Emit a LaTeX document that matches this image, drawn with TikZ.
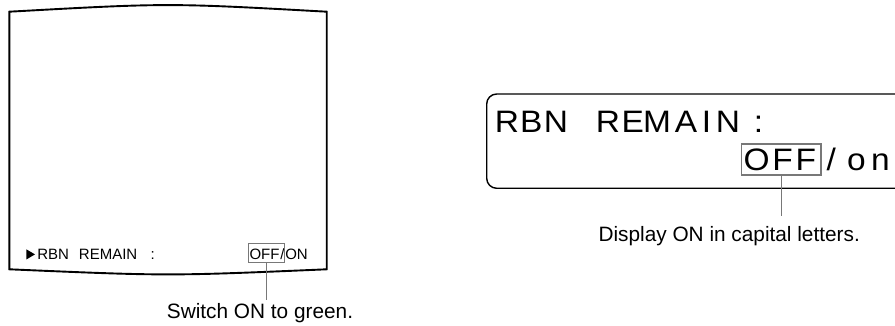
\documentclass[tikz,border=0pt]{standalone}
\usepackage{fontspec}
\setmainfont{Liberation Sans}
\newfontfamily\lcdfont[FakeStretch=1.08]{Liberation Sans}
\definecolor{boxgray}{RGB}{120,120,120}
\tikzset{
  frame/.style={line width=1.9pt, line join=miter},
  lcdframe/.style={draw, line width=1.4pt, rounded corners=10pt},
  osd/.style={inner sep=0pt, anchor=base west, font=\fontsize{15}{18}\selectfont},
  lcd/.style={inner sep=0pt, anchor=base west, font=\lcdfont\fontsize{31}{36}\selectfont},
  caption/.style={inner xsep=0pt, anchor=base, font=\fontsize{20.8}{24}\selectfont},
  leader/.style={draw=boxgray, line width=1.5pt},
  hibox/.style={draw=boxgray, line width=1.5pt, inner sep=0pt, rectangle}
}
\begin{document}
\begin{tikzpicture}[x=1pt, y=-1pt]
\useasboundingbox (0,0) rectangle (895,326);
\clip (0,0) rectangle (895,326);

% monitor screen
\draw[frame] (9.3,11.7) .. controls (168,2.9) .. (326.7,11.7)
  -- (326.7,269.3) .. controls (168,276.1) .. (9.3,269.3) -- cycle;
\fill (26.3,249.3) -- (35,254.4) -- (26.3,259.5) -- cycle;
\node[osd] (osdL) at (37.1,259.3) {RBN\kern10pt REMAIN\kern13.3pt :};
\node[osd] (osdV) at (249.3,259.3) {OFF\kern0.8pt/\kern0.8pt ON};
\node[hibox, minimum width=36pt, minimum height=19.4pt] (offL) at (266.3,253) {};
\node[caption, inner ysep=2.4pt] (labL) at (260,318) {Switch ON to green.};
\draw[leader] (offL.south) -- (offL.south |- labL.north);

% LCD display
\draw[lcdframe] (486.7,94) rectangle (915,188.3);
\node[lcd] (lcd1) at (494.7,132.3)
  {R\kern1.2pt B\kern1.4pt N\kern27.6pt R\kern1.8pt E\kern-0.9pt M\kern3.9pt A\kern4.6pt I\kern4.7pt N\kern13.7pt :};
\node[lcd] (lcd2) at (743.4,170.5)
  {O\kern2.8pt F\kern2.8pt F\kern10.6pt /\kern11.1pt o\kern5.4pt n};
\node[hibox, minimum width=79.3pt, minimum height=31pt] (offR) at (781.3,159.5) {};
\node[caption, inner ysep=10pt] (labR) at (729.2,241.7) {Display ON in capital letters.};
\draw[leader] (offR.south) -- (offR.south |- labR.north);
\end{tikzpicture}
\end{document}
